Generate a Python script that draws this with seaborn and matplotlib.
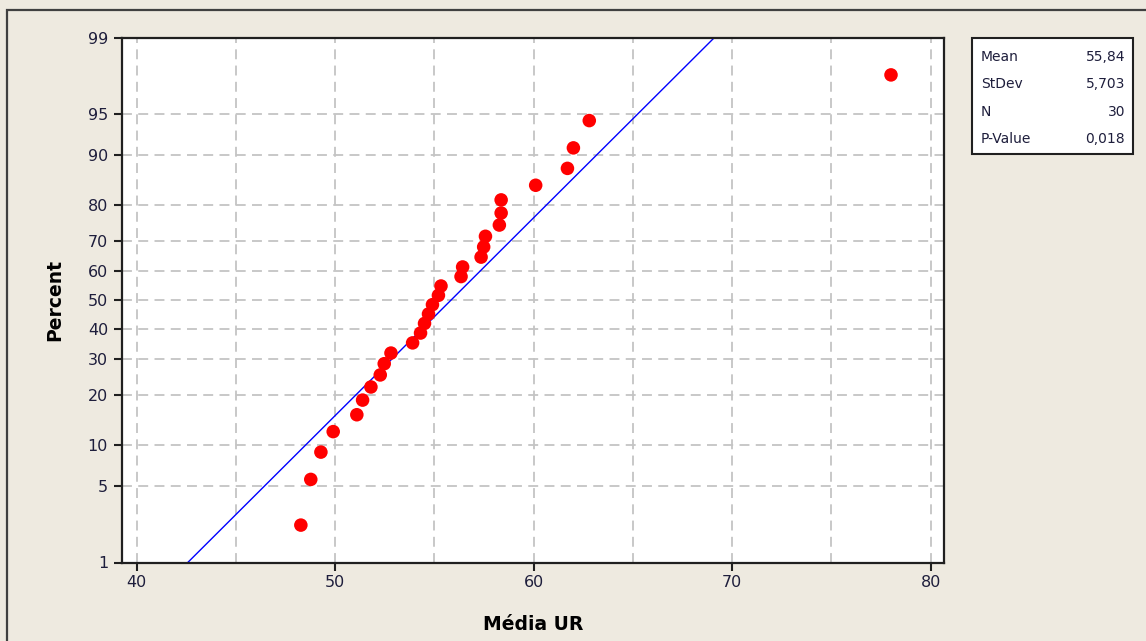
import matplotlib
matplotlib.use("Agg")
import numpy as np
import pandas as pd
import seaborn as sns
import matplotlib.pyplot as plt
from matplotlib.patches import Rectangle
from statistics import NormalDist

# Observed values of "Média UR" (30 samples)
media_ur = [48.27, 48.77, 49.28, 49.90, 51.09, 51.38, 51.80, 52.27, 52.47, 52.81,
            53.90, 54.30, 54.50, 54.70, 54.90, 55.20, 55.33, 56.34, 56.42, 57.35,
            57.48, 57.57, 58.27, 58.36, 58.36, 60.10, 61.70, 62.00, 62.80, 78.00]

# Summary statistics of the normal fit
stat_names = ["Mean", "StDev", "N", "P-Value"]
stat_values = ["55,84", "5,703", "30", "0,018"]
MEAN = 55.84
STDEV = 5.703

percent_ticks = [1, 5, 10, 20, 30, 40, 50, 60, 70, 80, 90, 95, 99]
x_ticks = [40, 50, 60, 70, 80]
x_grid = [40, 45, 50, 55, 60, 65, 70, 75, 80]

BG = "#EEEAE0"
TICK_COLOR = "#1E1E3C"

nd = NormalDist()


def probit(pct):
    return nd.inv_cdf(pct / 100.0)


# Median-rank plotting positions (Benard)
n = len(media_ur)
ranks = np.arange(1, n + 1)
plot_pct = (ranks - 0.3) / (n + 0.4) * 100
df = pd.DataFrame({"Média UR": sorted(media_ur),
                   "z": [probit(p) for p in plot_pct]})

# Fitted normal line across the x range
x_line = np.array([39.0, 81.0])
fit = pd.DataFrame({"x": x_line, "z": (x_line - MEAN) / STDEV})

fig = plt.figure(figsize=(11.46, 6.41), dpi=100, facecolor=BG)
W, H = 1146, 641
ax = fig.add_axes([122 / W, 1 - 562.5 / H, (944 - 122) / W, (562.5 - 37.5) / H])
ax.set_facecolor("white")

# Dashed grid
for gx in x_grid:
    ax.axvline(gx, color="#C4C4C4", lw=1.3, dashes=(5.5, 3.5), zorder=0)
for p in percent_ticks[1:-1]:
    ax.axhline(probit(p), color="#C4C4C4", lw=1.3, dashes=(5.5, 3.5), zorder=0)

sns.lineplot(data=fit, x="x", y="z", ax=ax, color="#0000FF", lw=1.0, zorder=2)
sns.scatterplot(data=df, x="Média UR", y="z", ax=ax, color="#FF0000",
                s=95, edgecolor="none", zorder=3)

ax.set_xlim(39.26, 80.67)
ax.set_ylim(probit(1), probit(99))
ax.set_xticks(x_ticks)
ax.set_xticklabels([str(t) for t in x_ticks])
ax.set_yticks([probit(p) for p in percent_ticks])
ax.set_yticklabels([str(p) for p in percent_ticks])

ax.tick_params(axis="both", direction="out", length=6, width=1.5,
               color="#202020", labelsize=11.5, labelcolor=TICK_COLOR, pad=3)
ax.tick_params(axis="y", pad=4)
for s in ax.spines.values():
    s.set_color("#202020")
    s.set_linewidth(1.6)

ax.set_xlabel("Média UR", fontsize=13.5, fontweight="bold", labelpad=18)
ax.set_ylabel("Percent", fontsize=13.5, fontweight="bold", labelpad=17)

# Statistics box
fig.patches.append(Rectangle((972 / W, 1 - 154 / H), (1133 - 972) / W, (154 - 38) / H,
                             transform=fig.transFigure, facecolor="white",
                             edgecolor="#202020", lw=1.5))
row_y = [57, 84, 112, 139]
for name, val, yy in zip(stat_names, stat_values, row_y):
    fig.text(981 / W, 1 - yy / H, name, fontsize=10, va="center", ha="left",
             color=TICK_COLOR)
    fig.text(1125 / W, 1 - yy / H, val, fontsize=10, va="center", ha="right",
             color=TICK_COLOR)

# Outer frame
fig.patches.append(Rectangle((7 / W, -0.05), 1.2, 1.05 - 10 / H,
                             transform=fig.transFigure, facecolor="none",
                             edgecolor="#404040", lw=1.6))

fig.savefig("out.png", dpi=100, facecolor=BG)
